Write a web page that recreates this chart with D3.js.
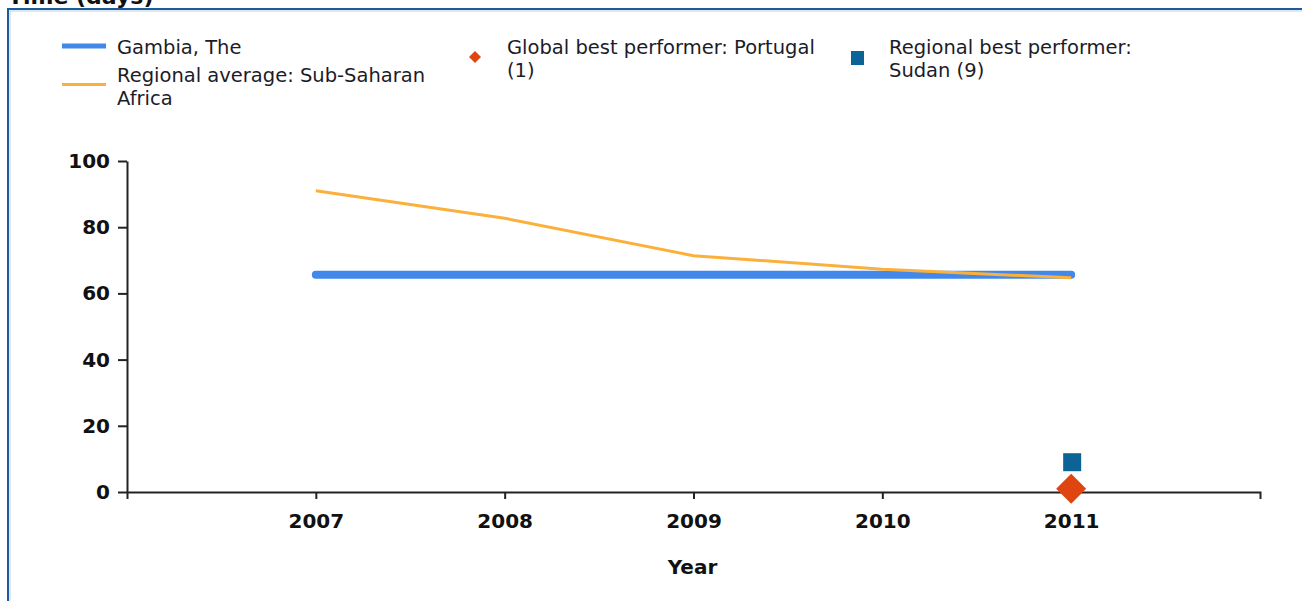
<!DOCTYPE html>
<html>
<head>
<meta charset="utf-8">
<script src="https://cdn.jsdelivr.net/npm/d3@7"></script>
<style>
  body { margin: 0; background: #fff; }
  svg { display: block; }
</style>
</head>
<body>
<div class="containers"></div>
<script>
const years = [2007, 2008, 2009, 2010, 2011]
const gambia = [65.6, 65.6, 65.6, 65.6, 65.6]
const regional = [91, 82.7, 71.4, 67.3, 64.7]
const globalBest = [{ year: 2011, value: 1 }]
const regionalBest = [{ year: 2011, value: 9 }]
const yTicks = [0, 20, 40, 60, 80, 100]

const width = 1302
const height = 601
const font = 'Tahoma, "DejaVu Sans", sans-serif'
const legendFont = 'Tahoma, "DejaVu Sans", sans-serif'

const svg = d3
  .select('.containers')
  .append('svg')
  .attr('width', width)
  .attr('height', height)

// frame
svg.append('rect')
  .attr('x', 8).attr('y', 9)
  .attr('width', width + 20).attr('height', height + 20)
  .attr('fill', 'none')
  .attr('stroke', '#1d5c9c')
  .attr('stroke-width', 2)
svg.append('rect')
  .attr('x', 10).attr('y', 11)
  .attr('width', width + 20).attr('height', height + 20)
  .attr('fill', 'none')
  .attr('stroke', '#b9cfe6')
  .attr('stroke-width', 1)

// clipped title
svg.append('text')
  .attr('x', 8).attr('y', 4)
  .attr('font-family', font)
  .attr('font-weight', 'bold')
  .attr('font-size', 22)
  .attr('fill', '#111')
  .text('Time (days)')

const x = d3.scaleLinear().domain([2006, 2012]).range([127, 1260])
const y = d3.scaleLinear().domain([0, 100]).range([492, 161])

const axisColor = '#222'

// y axis
const yAxis = svg.append('g')
  .attr('transform', 'translate(127,0)')
  .call(d3.axisLeft(y).tickValues(yTicks).tickSize(9).tickSizeOuter(0).tickPadding(8))
yAxis.select('.domain').attr('stroke', axisColor).attr('stroke-width', 2)
yAxis.selectAll('.tick line').attr('stroke', axisColor).attr('stroke-width', 2)
yAxis.selectAll('text')
  .attr('font-family', font).attr('font-weight', 'bold')
  .attr('font-size', 20).attr('fill', '#111')

// x axis
const xAxis = svg.append('g')
  .attr('transform', 'translate(0,492)')
  .call(d3.axisBottom(x).tickValues(years).tickFormat(d3.format('d')).tickSize(7).tickSizeOuter(7).tickPadding(15))
xAxis.select('.domain').attr('stroke', axisColor).attr('stroke-width', 2)
xAxis.selectAll('.tick line').attr('stroke', axisColor).attr('stroke-width', 2)
xAxis.selectAll('text')
  .attr('font-family', font).attr('font-weight', 'bold')
  .attr('font-size', 20).attr('fill', '#111')

svg.append('text')
  .attr('x', (x(2006) + x(2012)) / 2 - 1).attr('y', 574)
  .attr('text-anchor', 'middle')
  .attr('font-family', font).attr('font-weight', 'bold')
  .attr('font-size', 20).attr('fill', '#111')
  .text('Year')

const line = d3.line().x(d => x(d[0])).y(d => y(d[1]))

svg.append('path')
  .datum(years.map((yr, i) => [yr, gambia[i]]))
  .attr('d', line)
  .attr('fill', 'none')
  .attr('stroke', '#4188ea')
  .attr('stroke-width', 8)
  .attr('stroke-linecap', 'round')

svg.append('path')
  .datum(years.map((yr, i) => [yr, regional[i]]))
  .attr('d', line)
  .attr('fill', 'none')
  .attr('stroke', '#fbb03b')
  .attr('stroke-width', 3)

svg.selectAll('.regbest')
  .data(regionalBest)
  .join('rect')
  .attr('class', 'regbest')
  .attr('x', d => x(d.year) - 8)
  .attr('y', d => y(d.value) - 9)
  .attr('width', 18).attr('height', 18)
  .attr('fill', '#0b6396')

svg.selectAll('.globest')
  .data(globalBest)
  .join('path')
  .attr('class', 'globest')
  .attr('transform', d => `translate(${x(d.year)},${y(d.value)})`)
  .attr('d', 'M0,-15L15,0L0,15L-15,0Z')
  .attr('fill', '#de4510')

// legend
const lg = svg.append('g')
  .attr('font-family', legendFont)
  .attr('font-size', 19.5)
  .attr('fill', '#1c1c28')

lg.append('line').attr('x1', 62).attr('x2', 106).attr('y1', 46).attr('y2', 46)
  .attr('stroke', '#4188ea').attr('stroke-width', 5)
lg.append('text').attr('x', 117).attr('y', 54).text('Gambia, The')

lg.append('line').attr('x1', 62).attr('x2', 106).attr('y1', 84.5).attr('y2', 84.5)
  .attr('stroke', '#fbb03b').attr('stroke-width', 3)
lg.append('text').attr('x', 117).attr('y', 82).text('Regional average: Sub-Saharan')
lg.append('text').attr('x', 117).attr('y', 105).text('Africa')

lg.append('path').attr('transform', 'translate(475,57)')
  .attr('d', 'M0,-6L6,0L0,6L-6,0Z').attr('fill', '#de4510')
lg.append('text').attr('x', 507).attr('y', 54).text('Global best performer: Portugal')
lg.append('text').attr('x', 507).attr('y', 77).text('(1)')

lg.append('rect').attr('x', 851).attr('y', 51).attr('width', 13).attr('height', 14)
  .attr('fill', '#0b6396')
lg.append('text').attr('x', 889).attr('y', 54).text('Regional best performer:')
lg.append('text').attr('x', 889).attr('y', 77).text('Sudan (9)')
</script>
</body>
</html>
